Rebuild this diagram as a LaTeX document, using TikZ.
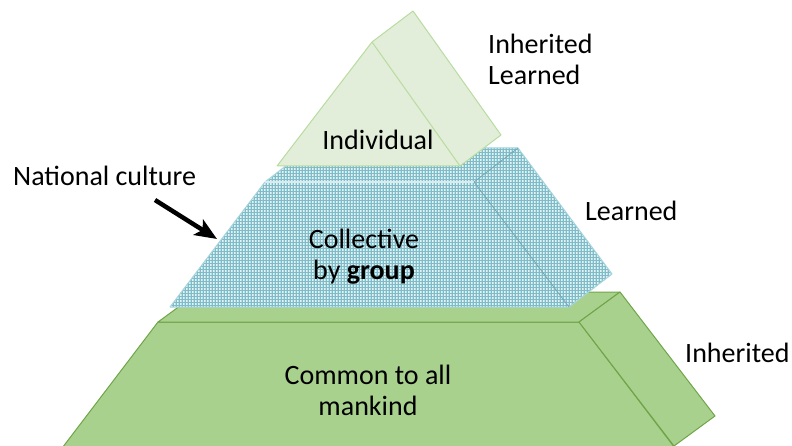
\documentclass[tikz,border=0pt]{standalone}
\usepackage{fontspec}
\setmainfont{Carlito}
\usetikzlibrary{arrows.meta,patterns}
\definecolor{grassgreen}{HTML}{A9D18E}
\definecolor{grassline}{HTML}{6FA548}
\definecolor{palegreen}{HTML}{E2EED9}
\definecolor{paleline}{HTML}{B8DCA0}
\definecolor{dotteal}{HTML}{7DBCC8}
\definecolor{dotline}{HTML}{A6D5DE}
\pgfdeclarepatternformonly{squaredots}{\pgfqpoint{0pt}{0pt}}{\pgfqpoint{1.6pt}{1.6pt}}{\pgfqpoint{3pt}{3pt}}%
  {\pgfpathrectangle{\pgfqpoint{0pt}{0pt}}{\pgfqpoint{1.6pt}{1.6pt}}\pgfusepath{fill}}

\begin{document}
\begin{tikzpicture}[x=1pt,y=-1pt,
  txt/.style={font=\fontsize{28}{31}\selectfont, inner sep=0pt},
  face/.style={line width=1pt, line join=round}]
\useasboundingbox (0,0) rectangle (792,446);
\clip (0,0) rectangle (792,446);

% bottom layer
\draw[face, fill=grassgreen, draw=grassline] (53,460) -- (158,322) -- (579,322) -- (684,460) -- cycle;
\draw[face, fill=grassgreen, draw=grassline] (158,322) -- (199,292) -- (620,292) -- (579,322) -- cycle;
\draw[face, fill=grassgreen, draw=grassline] (579,322) -- (620,292) -- (715,416) -- (674,446) -- cycle;

% middle layer
\path[fill=dotteal, postaction={pattern=squaredots, pattern color=white!80!dotteal}]
  (170,307) -- (265,182) -- (309,148) -- (518,148) -- (612,274) -- (569,307) -- cycle;
\draw[face, draw=dotline] (170,307) -- (265,182) -- (309,148) -- (518,148) -- (612,274) -- (569,307) -- cycle;
\draw[line width=2.5pt, draw=white!55!dotline] (265,182) -- (474,182);
\draw[line width=0.8pt, draw=dotteal!90!black] (474,182) -- (518,148);
\draw[line width=0.8pt, draw=dotteal!90!black] (474,182) -- (569,307);

% top layer
\draw[face, fill=palegreen, draw=paleline] (277,166) -- (372,42) -- (413,11) -- (501,135) -- (460,166) -- cycle;
\draw[face, draw=paleline] (372,42) -- (460,166);

% labels
\node[txt] (indiv) at (378,140) {Individual};
\node[txt, align=left, anchor=west] (topside) at (488,59) {Inherited\\Learned};
\node[txt, anchor=west] (midside) at (585,211) {Learned};
\node[txt, anchor=west] (botside) at (685,353) {Inherited};
\node[txt, anchor=west] (national) at (13,176) {National culture};
\node[txt, align=center] (collective) at (364,257) {Collective\\by \textbf{group}};
\node[txt, align=center] (common) at (368,390) {Common to all\\mankind};

% arrow
\coordinate (natTail) at (155,200);
\coordinate (natTip) at (217,239);
\draw[line width=4.5pt, -{Stealth[length=22pt,width=18pt,inset=5pt]}] (natTail) -- (natTip);
\end{tikzpicture}
\end{document}
